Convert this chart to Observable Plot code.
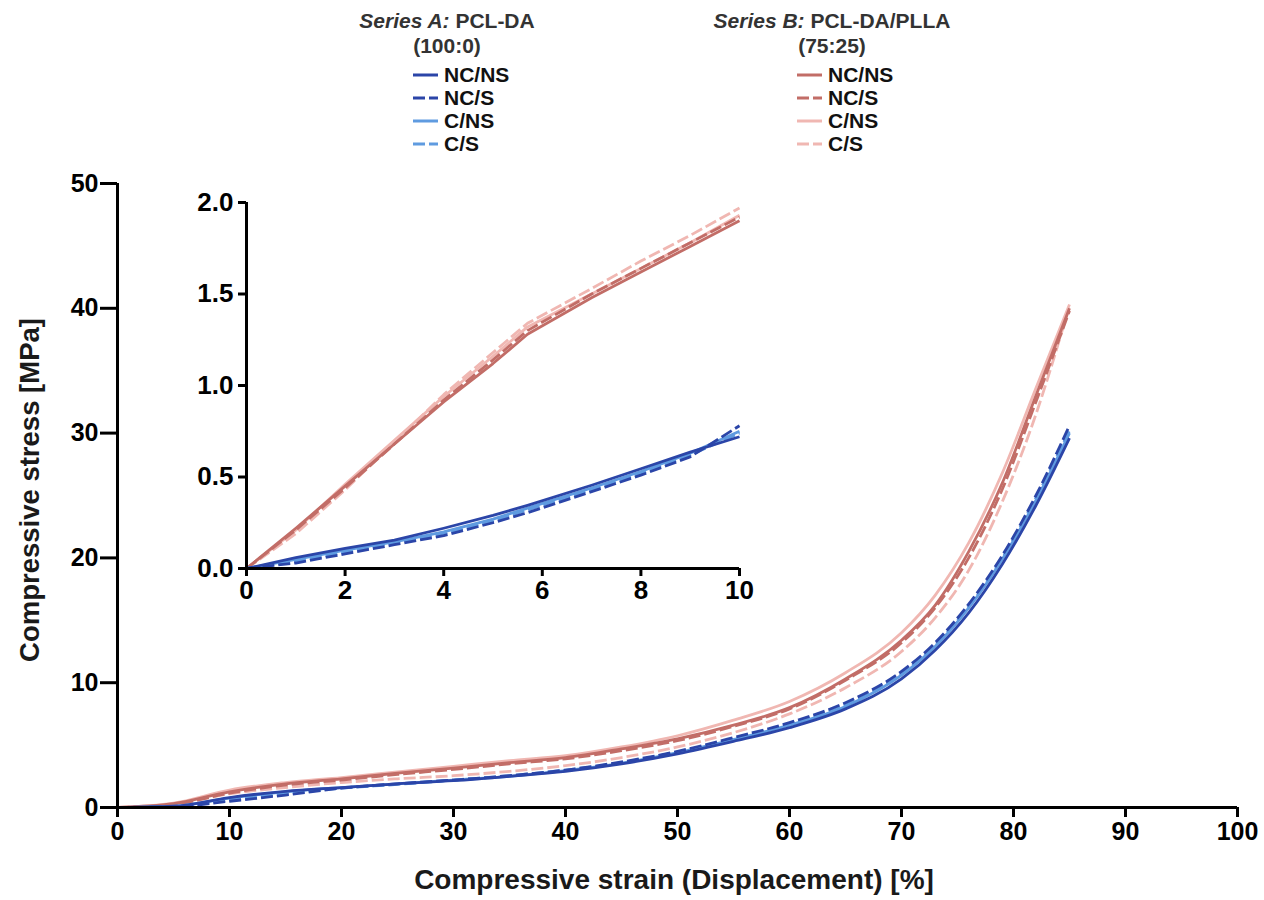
<!DOCTYPE html>
<html>
<head>
<meta charset="utf-8">
<script src="https://cdn.jsdelivr.net/npm/d3@7"></script>
<script src="https://cdn.jsdelivr.net/npm/@observablehq/plot@0.6"></script>
<style>
  body { margin: 0; background: white; }
  #wrap { position: relative; width: 1264px; height: 900px; font-family: "Liberation Sans", Arial, sans-serif; color: #111; }
  .abs { position: absolute; }
  .title { font-weight: bold; white-space: nowrap; color: #1a1a1a; }
  .leg-head { font-weight: bold; font-size: 21px; color: #333; text-align: center; white-space: nowrap; }
  .leg-item { font-weight: bold; font-size: 21px; color: #111; display: flex; align-items: center; height: 23px; white-space: nowrap; }
  .leg-item svg { margin-right: 6px; }
</style>
</head>
<body>
<div id="wrap"></div>
<script>
// ---------- data: main chart (strain %, stress MPa) ----------
const strain = [0, 5, 10, 15, 20, 25, 30, 35, 40, 45, 50, 55, 60, 65, 70, 73, 76, 79, 82, 85];
const A_NCNS = [0, 0.10, 0.80, 1.30, 1.60, 1.90, 2.15, 2.50, 2.90, 3.50, 4.30, 5.30, 6.40, 7.90, 10.3, 12.6, 15.6, 19.5, 24.2, 29.6];
const A_NCS  = [0, 0.05, 0.50, 1.00, 1.55, 1.90, 2.20, 2.55, 3.00, 3.65, 4.50, 5.60, 6.80, 8.40, 10.9, 13.2, 16.3, 20.2, 25.0, 30.6];
const A_CNS  = [0, 0.10, 0.75, 1.25, 1.60, 1.90, 2.20, 2.50, 2.95, 3.55, 4.40, 5.45, 6.60, 8.10, 10.6, 12.9, 16.0, 19.9, 24.6, 30.0];
const A_CS   = [0, 0.08, 0.60, 1.10, 1.55, 1.85, 2.20, 2.55, 3.00, 3.60, 4.45, 5.50, 6.70, 8.20, 10.7, 13.0, 16.1, 20.0, 24.8, 30.2];
const B_NCNS = [0, 0.30, 1.26, 1.90, 2.30, 2.75, 3.15, 3.60, 4.00, 4.70, 5.50, 6.60, 8.00, 10.3, 13.4, 16.2, 20.5, 26.0, 33.0, 40.0];
const B_NCS  = [0, 0.25, 1.15, 1.80, 2.20, 2.65, 3.05, 3.50, 3.90, 4.55, 5.35, 6.50, 7.90, 10.2, 13.2, 16.0, 20.0, 25.5, 32.5, 39.8];
const B_CNS  = [0, 0.35, 1.40, 2.00, 2.40, 2.85, 3.30, 3.75, 4.15, 4.85, 5.75, 7.00, 8.50, 10.8, 14.0, 17.0, 21.2, 26.8, 33.6, 40.3];
const B_CS   = [0, 0.25, 1.10, 1.60, 2.00, 2.30, 2.55, 2.90, 3.35, 4.00, 4.85, 6.00, 7.50, 9.60, 12.5, 15.2, 19.0, 24.5, 31.5, 40.2];

// ---------- data: inset (0-10 % strain) ----------
const insetStrain = [0, 1, 2, 3, 4, 5, 5.7, 7, 8, 9, 10];
const iA_NCNS = [0, 0.06, 0.11, 0.155, 0.22, 0.29, 0.345, 0.455, 0.545, 0.636, 0.72];
const iA_NCS  = [0, 0.03, 0.08, 0.13, 0.18, 0.25, 0.305, 0.42, 0.51, 0.61, 0.78];
const iA_CNS  = [0, 0.05, 0.10, 0.145, 0.20, 0.27, 0.33, 0.44, 0.53, 0.63, 0.75];
const iA_CS   = [0, 0.04, 0.09, 0.14, 0.19, 0.26, 0.32, 0.43, 0.52, 0.62, 0.74];
const iB_NCNS = [0, 0.22, 0.45, 0.68, 0.91, 1.12, 1.28, 1.48, 1.62, 1.76, 1.90];
const iB_NCS  = [0, 0.21, 0.44, 0.68, 0.92, 1.14, 1.30, 1.50, 1.64, 1.78, 1.92];
const iB_CNS  = [0, 0.21, 0.46, 0.70, 0.94, 1.16, 1.32, 1.50, 1.64, 1.78, 1.93];
const iB_CS   = [0, 0.19, 0.43, 0.69, 0.95, 1.18, 1.34, 1.53, 1.68, 1.82, 1.97];

// ---------- ticks & labels ----------
const xTicks = [0, 10, 20, 30, 40, 50, 60, 70, 80, 90, 100];
const yTicks = [0, 10, 20, 30, 40, 50];
const insetXTicks = [0, 2, 4, 6, 8, 10];
const insetYTicks = [0, 0.5, 1.0, 1.5, 2.0];
const legendLabels = ["NC/NS", "NC/S", "C/NS", "C/S"];
const seriesAHead = ["Series A:", "PCL-DA", "(100:0)"];
const seriesBHead = ["Series B:", "PCL-DA/PLLA", "(75:25)"];
const xTitle = "Compressive strain (Displacement) [%]";
const yTitle = "Compressive stress [MPa]";

// ---------- styles ----------
const colA = ["#2b45a8", "#2b45a8", "#5f9be0", "#5f9be0"];
const colB = ["#c26d67", "#c26d67", "#f0b7b2", "#f0b7b2"];
const dashes = [null, "12,4", null, "12,4"];

const mainSeries = [
  {vals: B_CNS, c: colB[2], d: dashes[2]}, {vals: B_CS, c: colB[3], d: dashes[3]},
  {vals: B_NCNS, c: colB[0], d: dashes[0]}, {vals: B_NCS, c: colB[1], d: dashes[1]},
  {vals: A_CNS, c: colA[2], d: dashes[2]}, {vals: A_CS, c: colA[3], d: dashes[3]},
  {vals: A_NCNS, c: colA[0], d: dashes[0]}, {vals: A_NCS, c: colA[1], d: dashes[1]}
];
const insetSeries = [
  {vals: iB_CNS, c: colB[2], d: dashes[2]}, {vals: iB_CS, c: colB[3], d: dashes[3]},
  {vals: iB_NCNS, c: colB[0], d: dashes[0]}, {vals: iB_NCS, c: colB[1], d: dashes[1]},
  {vals: iA_CNS, c: colA[2], d: dashes[2]}, {vals: iA_CS, c: colA[3], d: dashes[3]},
  {vals: iA_NCNS, c: colA[0], d: dashes[0]}, {vals: iA_NCS, c: colA[1], d: dashes[1]}
];

function lineMarks(xs, series, curve) {
  return series.map(s => Plot.line(xs.map((x, i) => ({x, y: s.vals[i]})), {
    x: "x", y: "y", stroke: s.c, strokeWidth: 2.8, strokeDasharray: s.d || undefined,
    curve, strokeLinecap: "butt"
  }));
}

const wrap = document.getElementById("wrap");
const font = "'Liberation Sans', Arial, sans-serif";

// ---------- main chart ----------
const main = Plot.plot({
  width: 1264, height: 900,
  marginLeft: 117, marginRight: 27, marginTop: 183, marginBottom: 93,
  x: {domain: [0, 100]},
  y: {domain: [0, 50]},
  style: {fontFamily: font, fontSize: "25px", fontWeight: "bold", color: "#000", background: "transparent"},
  marks: [
    ...lineMarks(strain, mainSeries, "monotone-x"),
    Plot.axisX({ticks: xTicks, tickSize: 10, tickPadding: 5, strokeWidth: 3, fontSize: 25, label: null, tickFormat: d3.format("d")}),
    Plot.axisY({ticks: yTicks, tickSize: 17, tickPadding: 2, strokeWidth: 3, fontSize: 25, label: null, tickFormat: d3.format("d")}),
    Plot.ruleY([0], {strokeWidth: 3, stroke: "#000"}),
    Plot.ruleX([0], {strokeWidth: 3, stroke: "#000"})
  ]
});
main.classList.add("abs");
main.style.left = "0px"; main.style.top = "0px";
wrap.appendChild(main);

// ---------- inset ----------
const inset = Plot.plot({
  width: 573, height: 426,
  marginLeft: 60, marginRight: 20, marginTop: 20, marginBottom: 40,
  x: {domain: [0, 10]},
  y: {domain: [0, 2]},
  style: {fontFamily: font, fontSize: "26px", fontWeight: "bold", color: "#000", background: "transparent"},
  marks: [
    ...lineMarks(insetStrain, insetSeries, "linear"),
    Plot.axisX({ticks: insetXTicks, tickSize: 8, tickPadding: 4, strokeWidth: 3, fontSize: 26, label: null, tickFormat: d3.format("d")}),
    Plot.axisY({ticks: insetYTicks, tickSize: 8, tickPadding: 5, strokeWidth: 3, fontSize: 26, label: null, tickFormat: d3.format(".1f")}),
    Plot.ruleY([0], {strokeWidth: 3, stroke: "#000"}),
    Plot.ruleX([0], {strokeWidth: 3, stroke: "#000"})
  ]
});
inset.classList.add("abs");
inset.style.left = "186px"; inset.style.top = "182px";
wrap.appendChild(inset);

// ---------- axis titles ----------
const xt = document.createElement("div");
xt.className = "abs title";
xt.textContent = xTitle;
xt.style.cssText += "left:674px;top:880px;transform:translate(-50%,-50%);font-size:28px;";
wrap.appendChild(xt);

const yt = document.createElement("div");
yt.className = "abs title";
yt.textContent = yTitle;
yt.style.cssText += "left:30px;top:490px;transform:translate(-50%,-50%) rotate(-90deg);font-size:27.5px;";
wrap.appendChild(yt);

// ---------- legend ----------
function legend(cx, swatchX, head, cols) {
  const h1 = document.createElement("div");
  h1.className = "abs leg-head";
  h1.innerHTML = `<i>${head[0]}</i> ${head[1]}`;
  h1.style.cssText += `left:${cx}px;top:21px;transform:translate(-50%,-50%);`;
  wrap.appendChild(h1);
  const h2 = document.createElement("div");
  h2.className = "abs leg-head";
  h2.textContent = head[2];
  h2.style.cssText += `left:${cx}px;top:46px;transform:translate(-50%,-50%);`;
  wrap.appendChild(h2);
  legendLabels.forEach((lab, i) => {
    const it = document.createElement("div");
    it.className = "abs leg-item";
    it.style.left = swatchX + "px";
    it.style.top = (63 + i * 23.3) + "px";
    it.innerHTML = `<svg width="25" height="6"><line x1="0" y1="3" x2="25" y2="3" stroke="${cols[i]}" stroke-width="3" ${dashes[i] ? `stroke-dasharray="${dashes[i]}"` : ""}/></svg>${lab}`;
    wrap.appendChild(it);
  });
}
legend(447, 413, seriesAHead, colA);
legend(832, 797, seriesBHead, colB);
</script>
</body>
</html>
